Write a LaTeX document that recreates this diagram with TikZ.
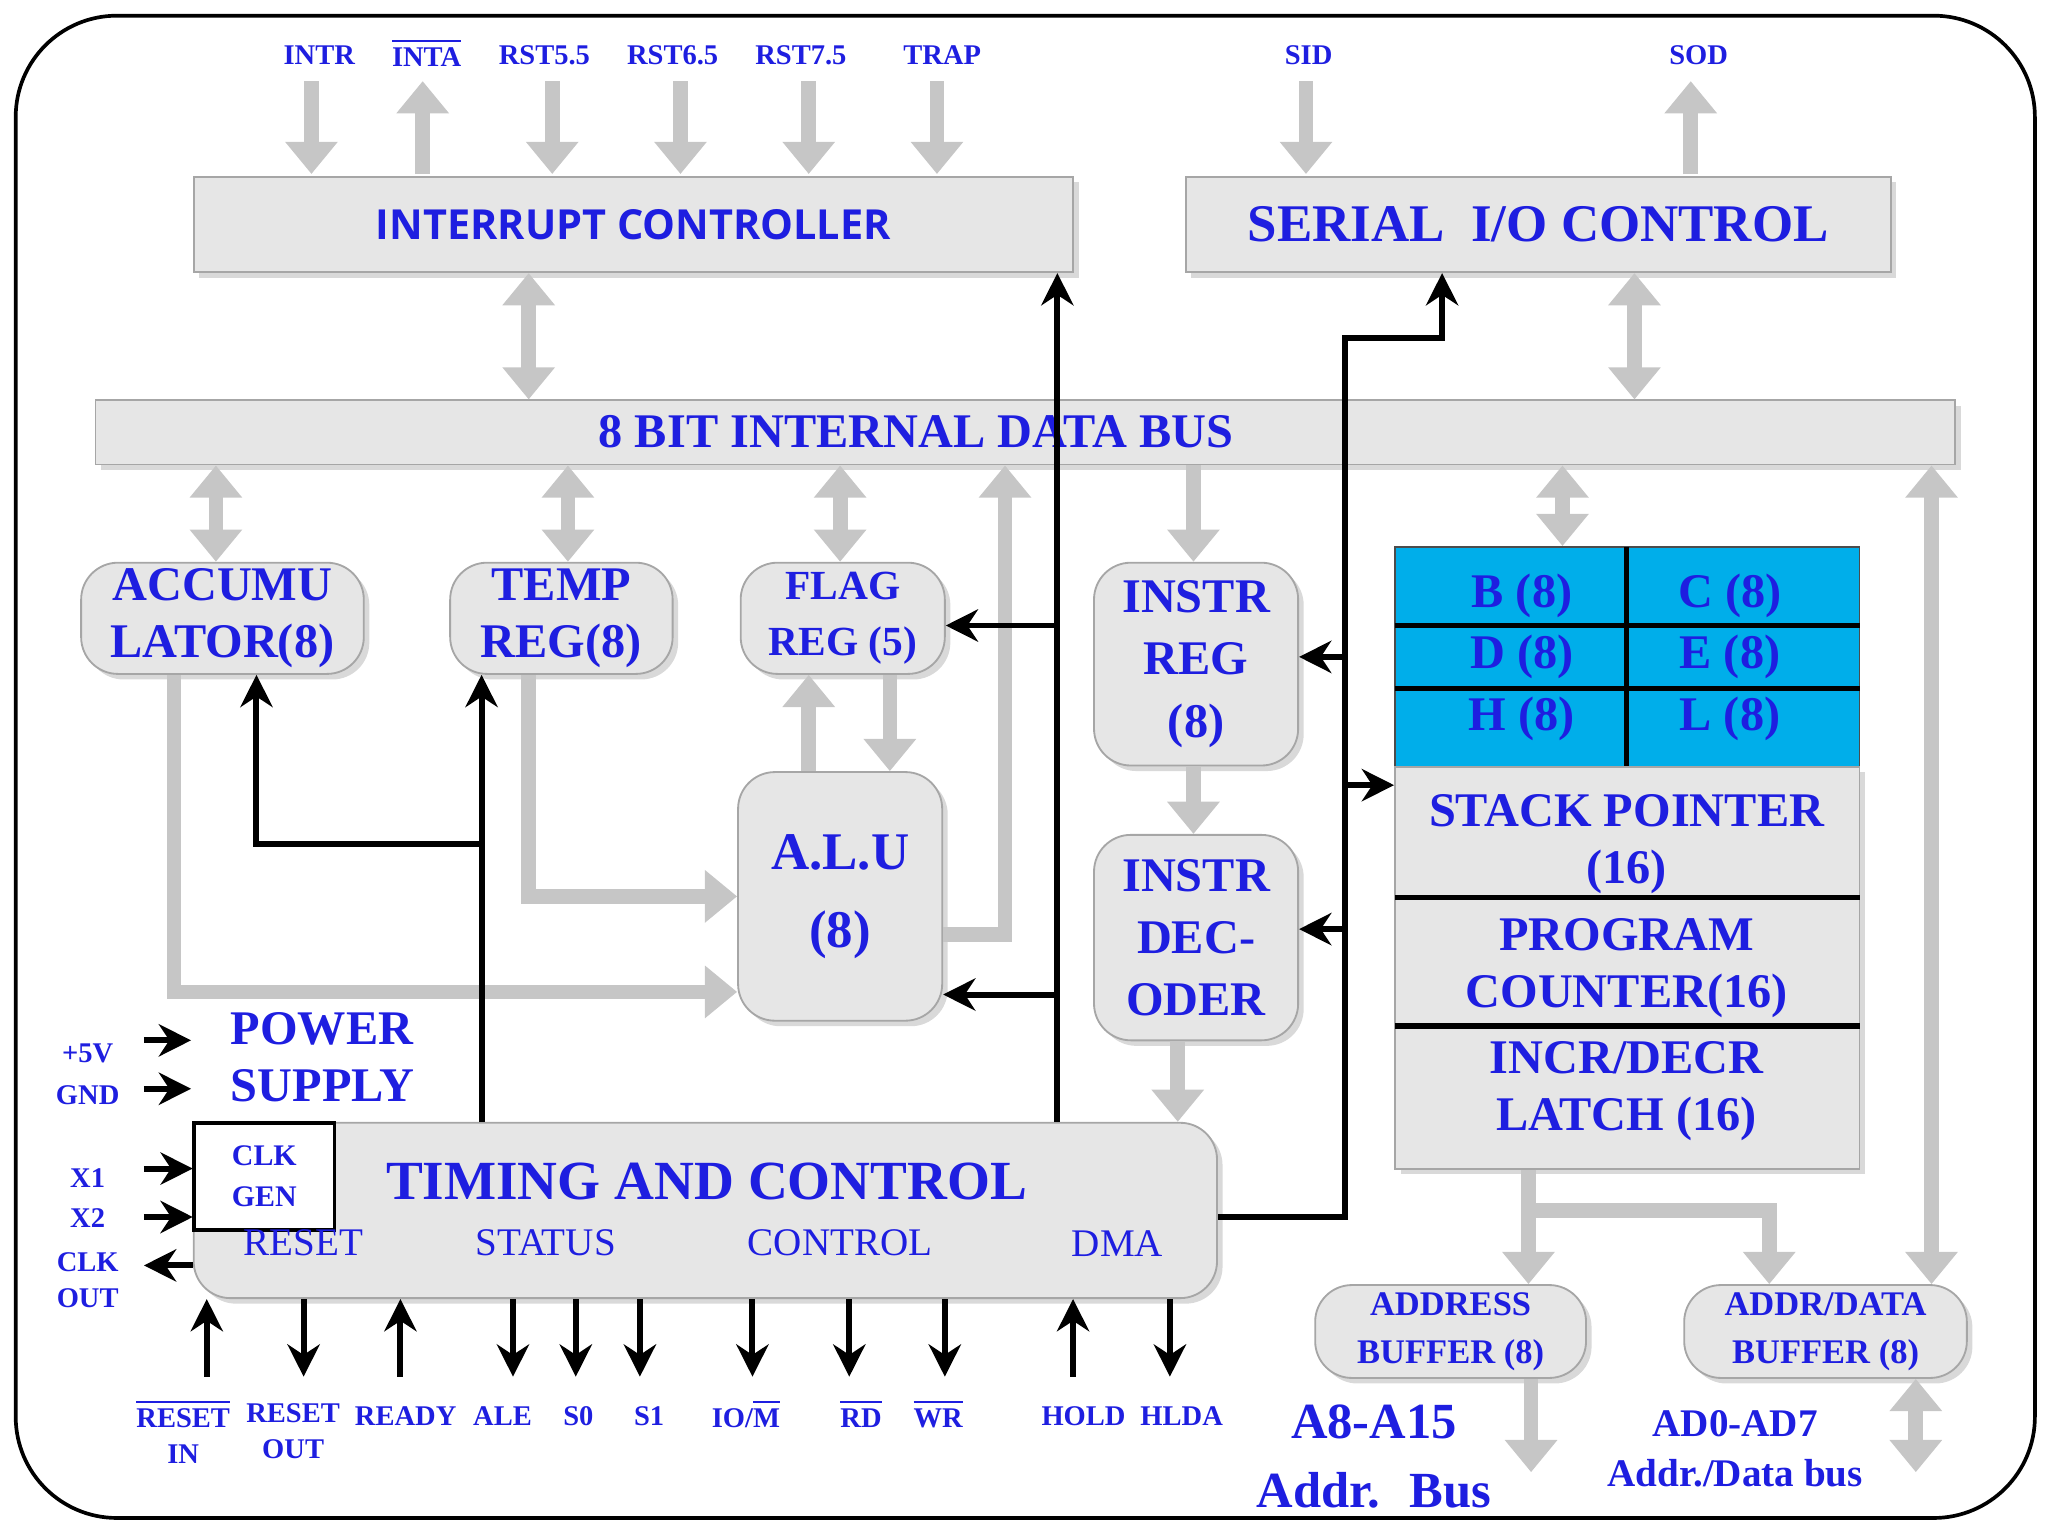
\documentclass[tikz,border=0pt]{standalone}
\usepackage{fontspec}
\setmainfont{Liberation Serif}
\newfontfamily\sansf{Open Sans}
\usetikzlibrary{fit, shadows, arrows.meta, positioning}
\definecolor{txtblue}{HTML}{1E1EE0}
\definecolor{regcyan}{HTML}{00AEEA}
\definecolor{boxgray}{HTML}{E6E6E6}
\tikzset{
  box/.style={draw=gray!70, fill=boxgray, inner sep=0pt, drop shadow={opacity=.3, shadow xshift=1.2pt, shadow yshift=-1.2pt}},
  rbox/.style={box, rounded corners=8pt},
  lbl/.style={text=txtblue, font=\bfseries\fontsize{10.5}{12.5}\selectfont, align=center},
  sig/.style={text=txtblue, font=\bfseries\fontsize{6.2}{7.8}\selectfont, align=center},
  fat/.style={draw=gray!45, line width=3.2pt, -{Triangle[length=7pt,width=11pt]}},
  fatboth/.style={fat, {Triangle[length=7pt,width=11pt]}-{Triangle[length=7pt,width=11pt]}},
  ctl/.style={draw=black, line width=1.3pt, -{Stealth[length=7pt,width=7pt]}},
}
\begin{document}
\begin{tikzpicture}[x=0.01cm, y=-0.01cm]
\useasboundingbox (0,0) rectangle (1565,1174);
\draw[line width=0.8pt, rounded corners=22pt] (12,12) rectangle (1555,1160);

% boxes
\node[box, fit={(148,135)(820,208)}] (ic) {};
\node[text=txtblue, font=\sansf\bfseries\fontsize{9}{11}\selectfont] at (ic.center) {INTERRUPT CONTROLLER};
\node[box, fit={(906,135)(1445,208)}] (sio) {};
\node[lbl, font=\bfseries\fontsize{11.5}{13}\selectfont] at (sio.center) {SERIAL~ I/O CONTROL};
\node[box, fit={(73,306)(1494,355)}] (bus) {};
\node[lbl] at (700,330) {8 BIT INTERNAL DATA BUS};

\node[rbox, fit={(62,430)(278,515)}] (acc) {};
\node[lbl] at (acc.center) {ACCUMU\\LATOR(8)};
\node[rbox, fit={(344,430)(514,515)}] (tmp) {};
\node[lbl] at (tmp.center) {TEMP\\REG(8)};
\node[rbox, fit={(566,430)(722,515)}] (flag) {};
\node[lbl, font=\bfseries\fontsize{9}{12}\selectfont] at (flag.center) {FLAG\\REG (5)};
\node[rbox, fit={(564,590)(720,780)}] (alu) {};
\node[lbl, font=\bfseries\fontsize{11.5}{17}\selectfont] at (alu.center) {A.L.U\\(8)};
\node[rbox, fit={(836,430)(992,585)}] (ir) {};
\node[lbl, font=\bfseries\fontsize{10.5}{13.5}\selectfont] at (ir.center) {INSTR\\REG\\(8)};
\node[rbox, fit={(836,638)(992,795)}] (dec) {};
\node[lbl, font=\bfseries\fontsize{10.5}{13.5}\selectfont] at (dec.center) {INSTR\\DEC-\\ODER};

% register array
\node[draw=black!70, fill=regcyan, inner sep=0pt, fit={(1066,418)(1421,586)}] (regs) {};
\draw[line width=1.2pt] (1066,478) -- (1421,478) (1066,526) -- (1421,526) (1243,418) -- (1243,586);
\node[lbl] at (1163,455) {B (8)}; \node[lbl] at (1322,455) {C (8)};
\node[lbl] at (1163,502) {D (8)}; \node[lbl] at (1322,502) {E (8)};
\node[lbl] at (1163,549) {H (8)}; \node[lbl] at (1322,549) {L (8)};
\node[box, fit={(1066,586)(1421,893)}] (spc) {};
\draw[line width=1.2pt] (1066,686) -- (1421,686) (1066,784) -- (1421,784);
\node[lbl] at (1243,645) {STACK POINTER\\(16)};
\node[lbl] at (1243,740) {PROGRAM\\COUNTER(16)};
\node[lbl] at (1243,834) {INCR/DECR\\LATCH (16)};

\node[rbox, fit={(148,858)(930,992)}] (tc) {};
\node[lbl, font=\bfseries\fontsize{12}{14}\selectfont] at (540,903) {TIMING AND CONTROL};
\node[draw=black, fill=white, line width=0.8pt, fit={(160,870)(244,928)}] (clk) {};
\node[sig, font=\bfseries\fontsize{6.5}{9}\selectfont] at (clk.center) {CLK\\GEN};
\foreach \x/\t in {232/RESET, 417/STATUS, 642/CONTROL, 854/DMA}
  \node[text=txtblue, font=\fontsize{8.5}{10}\selectfont] at (\x,950) {\t};

\node[rbox, fit={(1005,982)(1212,1053)}] (ab) {};
\node[sig, font=\bfseries\fontsize{7.5}{10.5}\selectfont] at (ab.center) {ADDRESS\\BUFFER (8)};
\node[rbox, fit={(1287,982)(1503,1053)}] (adb) {};
\node[sig, font=\bfseries\fontsize{7.5}{10.5}\selectfont] at (adb.center) {ADDR/DATA\\BUFFER (8)};

% interrupt and serial lines
\foreach \x/\t in {244/INTR, 416/RST5.5, 514/RST6.5, 612/RST7.5, 720/TRAP, 1000/SID}
  \node[sig] at (\x,42) {\t};
\foreach \x in {238, 422, 520, 618, 716, 998}
  \draw[fat] (\x,62) -- (\x,133);
\node[sig] at (326,40) {$\overline{\hbox{INTA}}$};
\draw[fat] (323,133) -- (323,62);
\node[sig] at (1298,42) {SOD};
\draw[fat] (1292,133) -- (1292,62);

% bus connections
\draw[fatboth] (ic.south -| 404,0) -- (bus.north -| 404,0);
\draw[fatboth] (sio.south -| 1249,0) -- (bus.north -| 1249,0);
\draw[fatboth] (bus.south -| 165,0) -- (acc.north -| 165,0);
\draw[fatboth] (bus.south -| 434,0) -- (tmp.north -| 434,0);
\draw[fatboth] (bus.south -| 642,0) -- (flag.north -| 642,0);
\draw[fat] (bus.south -| 912,0) -- (ir.north -| 912,0);
\draw[fatboth] (bus.south -| 1194,0) -- (regs.north -| 1194,0);
\draw[fatboth] (bus.south -| 1476,0) -- (adb.north -| 1476,0);
\draw[fat] (alu.east |- 0,714) -- (768,714) -- (bus.south -| 768,0);
\draw[fat] (alu.north -| 618,0) -- (flag.south -| 618,0);
\draw[fat] (flag.south -| 680,0) -- (alu.north -| 680,0);
\draw[fat] (tmp.south -| 404,0) -- (404,685) -- (alu.west |- 0,685);
\draw[fat] (acc.south -| 133,0) -- (133,758) -- (alu.west |- 0,758);
\draw[fat] (ir.south -| 912,0) -- (dec.north -| 912,0);
\draw[fat] (dec.south -| 900,0) -- (tc.north -| 900,0);
\draw[fat] (spc.south -| 1168,0) -- (ab.north -| 1168,0);
\draw[fat] (1168,925) -- (1352,925) -- (adb.north -| 1352,0);
\draw[fat] (ab.south -| 1170,0) -- (1170,1125);
\draw[fatboth] (adb.south -| 1464,0) -- (1464,1125);
\node[lbl, font=\bfseries\fontsize{11}{15}\selectfont] at (1050,1113) {A8-A15\\Addr.~ Bus};
\node[sig, font=\bfseries\fontsize{8.5}{11}\selectfont] at (1326,1107) {AD0-AD7\\Addr./Data bus};

% control lines
\draw[ctl] (tc.north -| 808,0) -- (ic.south -| 808,0);
\draw[ctl] (808,478) -- (flag.east |- 0,478);
\draw[ctl] (808,760) -- (alu.east |- 0,760);
\draw[ctl] (tc.north -| 368,0) -- (tmp.south -| 368,0);
\draw[ctl] (368,645) -- (196,645) -- (acc.south -| 196,0);
\draw[ctl] (tc.east |- 0,930) -- (1028,930) -- (1028,258) -- (1102,258) -- (sio.south -| 1102,0);
\draw[ctl] (1028,502) -- (ir.east |- 0,502);
\draw[ctl] (1028,710) -- (dec.east |- 0,710);
\draw[ctl] (1028,600) -- (spc.west |- 0,600);

% power and clock
\node[sig] at (67,805) {+5V};
\node[sig] at (67,837) {GND};
\draw[ctl] (110,795) -- (146,795);
\draw[ctl] (110,832) -- (146,832);
\node[lbl, anchor=west, align=left] at (164,808) {POWER\\SUPPLY};
\node[sig] at (67,900) {X1};
\node[sig] at (67,931) {X2};
\node[sig] at (67,978) {CLK\\OUT};
\draw[ctl] (110,893) -- (tc.west |- 0,893);
\draw[ctl] (110,930) -- (tc.west |- 0,930);
\draw[ctl] (tc.west |- 0,967) -- (110,967);

% bottom signals
\foreach \x in {232, 392, 440, 489, 575, 649, 722, 894}
  \draw[ctl] (tc.south -| \x,0) -- (\x,1052);
\foreach \x in {158, 306, 820}
  \draw[ctl] (\x,1052) -- (tc.south -| \x,0);
\node[sig] at (140,1094) {$\overline{\hbox{RESET}}$\\IN};
\node[sig] at (224,1094) {RESET\\OUT};
\node[sig] at (310,1082) {READY};
\node[sig] at (384,1082) {ALE};
\node[sig] at (442,1082) {S0};
\node[sig] at (496,1082) {S1};
\node[sig] at (570,1080) {IO/$\overline{\hbox{M}}$};
\node[sig] at (658,1080) {$\overline{\hbox{RD}}$};
\node[sig] at (717,1080) {$\overline{\hbox{WR}}$};
\node[sig] at (828,1082) {HOLD};
\node[sig] at (903,1082) {HLDA};
\end{tikzpicture}
\end{document}
